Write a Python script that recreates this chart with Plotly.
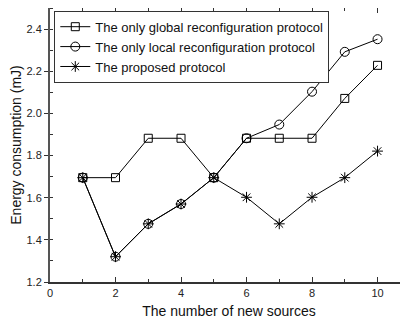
import plotly.graph_objects as go

x_sources = [1, 2, 3, 4, 5, 6, 7, 8, 9, 10]
global_only = [1.695, 1.695, 1.882, 1.882, 1.695, 1.882, 1.882, 1.882, 2.071, 2.228]
local_only = [1.695, 1.32, 1.476, 1.57, 1.695, 1.882, 1.947, 2.103, 2.292, 2.352]
proposed = [1.695, 1.32, 1.476, 1.57, 1.695, 1.602, 1.476, 1.602, 1.695, 1.821]

names = ["The only global reconfiguration protocol",
         "The only local reconfiguration protocol",
         "The proposed protocol"]

fig = go.Figure()
fig.add_trace(go.Scatter(x=x_sources, y=global_only, name=names[0], mode="lines+markers",
                         line=dict(color="black", width=1),
                         marker=dict(symbol="square-open", size=8, color="black", line=dict(width=1))))
fig.add_trace(go.Scatter(x=x_sources, y=local_only, name=names[1], mode="lines+markers",
                         line=dict(color="black", width=1),
                         marker=dict(symbol="circle-open", size=9, color="black", line=dict(width=1))))
fig.add_trace(go.Scatter(x=x_sources, y=proposed, name=names[2], mode="lines+markers",
                         line=dict(color="black", width=1),
                         marker=dict(symbol="asterisk-open", size=9, color="black", line=dict(width=1, color="black"))))

font_family = "Liberation Sans, Arial, sans-serif"
# the page body has an 8px margin, so the figure is sized/margined to compensate
fig.update_layout(
    width=400, height=316,
    margin=dict(l=42, r=0, t=0, b=42),
    plot_bgcolor="white", paper_bgcolor="white",
    font=dict(family=font_family, size=11, color="#222"),
    showlegend=True,
    legend=dict(x=0.012, y=0.99, xanchor="left", yanchor="top",
                bordercolor="#333", borderwidth=1, bgcolor="white",
                font=dict(size=13, color="#111"),
                tracegroupgap=0, itemwidth=30),
    xaxis=dict(range=[0, 10.93], tickmode="linear", tick0=0, dtick=2,
               ticks="inside", ticklen=5, tickwidth=1, tickcolor="#333",
               minor=dict(ticks="inside", ticklen=3, dtick=1, tickcolor="#333"),
               showline=True, linecolor="#333", linewidth=1.5, mirror="allticks",
               showgrid=False, zeroline=False, automargin=False,
               title=dict(text="The number of new sources", font=dict(size=14, color="#111"), standoff=8),
               tickfont=dict(size=11)),
    yaxis=dict(range=[1.2, 2.5], tickmode="linear", tick0=1.2, dtick=0.2,
               tickformat=".1f",
               ticks="outside", ticklen=4, tickwidth=1, tickcolor="#333",
               minor=dict(ticks="inside", ticklen=3, dtick=0.1, tickcolor="#333"),
               showline=True, linecolor="#555", linewidth=2,
               showgrid=False, zeroline=False, automargin=False,
               title=dict(text="Energy consumption (mJ)", font=dict(size=14, color="#111"), standoff=3),
               tickfont=dict(size=11)),
)

fig.write_html("out.html")
